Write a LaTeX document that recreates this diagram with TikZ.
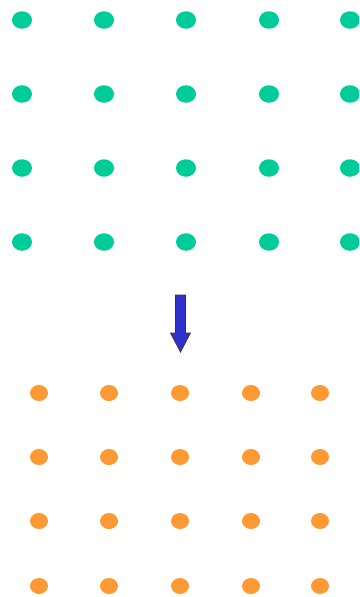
\documentclass[tikz,border=0pt]{standalone}
\usetikzlibrary{calc,shapes.geometric}
\definecolor{dotgreen}{RGB}{0,204,153}
\definecolor{dotorange}{RGB}{255,153,51}
\definecolor{arrowblue}{RGB}{48,48,204}
\tikzset{
  gdot/.style={ellipse, fill=dotgreen, minimum width=20pt, minimum height=17.5pt, inner sep=0pt},
  odot/.style={ellipse, fill=dotorange, minimum width=18pt, minimum height=16pt, inner sep=0pt},
}
\begin{document}
\begin{tikzpicture}[x=1pt,y=-1pt]
  \useasboundingbox (0,0) rectangle (359,597);
  \clip (0,0) rectangle (359,597);
  \fill[white] (0,0) rectangle (359,597);
  % upper grid of green dots
  \foreach \x [count=\i] in {22,104,186,269,350}
    \foreach \y [count=\j] in {20,94,168,242}
      \node[gdot] (g-\i-\j) at (\x,\y) {};
  % lower grid of orange dots
  \foreach \x [count=\i] in {39,109,180,251,320}
    \foreach \y [count=\j] in {393,457,521,586}
      \node[odot] (o-\i-\j) at (\x,\y) {};
  % block arrow pointing down
  \coordinate (atop) at (180.5,295);
  \coordinate (atip) at (180.5,352);
  \draw[fill=arrowblue, draw=black!80, line width=0.7pt, line join=miter]
    ($(atop)+(-5,0)$) -- ($(atop)+(5,0)$) -- ($(atip)+(5,-19)$) --
    ($(atip)+(10,-19)$) -- (atip) -- ($(atip)+(-10,-19)$) --
    ($(atip)+(-5,-19)$) -- cycle;
\end{tikzpicture}
\end{document}
